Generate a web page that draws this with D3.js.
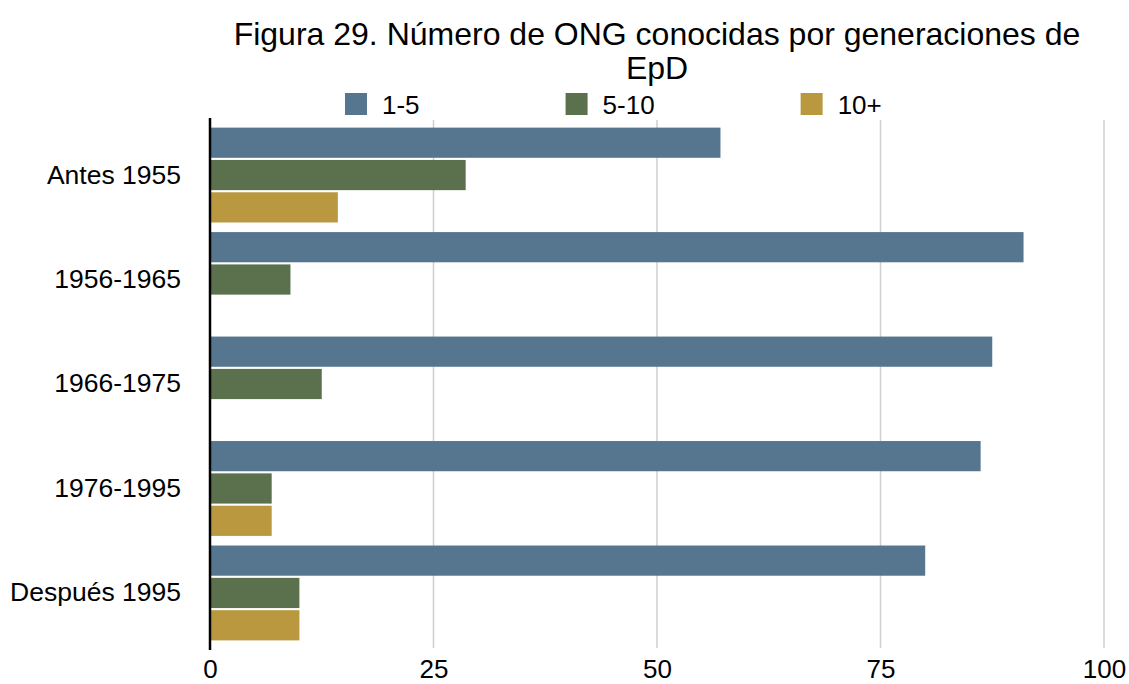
<!DOCTYPE html>
<html>
<head>
<meta charset="utf-8">
<script src="https://cdn.jsdelivr.net/npm/d3@7"></script>
<style>
  body { margin: 0; background: #fff; }
  text { font-family: "Liberation Sans", Arial, Helvetica, sans-serif; fill: #000; }
</style>
</head>
<body>
<svg id="chart" width="1129" height="684"></svg>
<script>
// data
var categories = ["Antes 1955", "1956-1965", "1966-1975", "1976-1995", "Después 1995"];
var seriesNames = ["1-5", "5-10", "10+"];
var values15 = [57.1, 91.0, 87.5, 86.2, 80.0];
var values510 = [28.6, 9.0, 12.5, 6.9, 10.0];
var values10p = [14.3, 0, 0, 6.9, 10.0];
var xTicks = [0, 25, 50, 75, 100];
var colors = ["#56768f", "#5b714d", "#b9983f"];

var series = [values15, values510, values10p];

var svg = d3.select("#chart");
var margin = {top: 118, right: 25, bottom: 34, left: 210};
var width = 1129, height = 684;

var x = d3.scaleLinear()
    .domain([0, 100])
    .range([margin.left, 1104]);

var y = d3.scaleBand()
    .domain(categories)
    .range([margin.top, height - margin.bottom])
    .padding(0.092);

var ySub = d3.scaleBand()
    .domain(seriesNames)
    .range([0, y.bandwidth()])
    .paddingInner(0.066);

// gridlines
svg.append("g")
    .selectAll("line")
    .data(xTicks.slice(1))
    .enter()
    .append("line")
    .attr("x1", function(d) { return x(d); })
    .attr("x2", function(d) { return x(d); })
    .attr("y1", 120)
    .attr("y2", 648)
    .attr("stroke", "#cfcfcf")
    .attr("stroke-width", 1.5);

// bars
series.forEach(function(vals, s) {
    svg.append("g")
        .selectAll("rect")
        .data(vals)
        .enter()
        .append("rect")
        .attr("x", x(0))
        .attr("y", function(d, i) { return y(categories[i]) + ySub(seriesNames[s]); })
        .attr("width", function(d) { return x(d) - x(0); })
        .attr("height", ySub.bandwidth())
        .attr("fill", colors[s]);
});

// x axis labels
var xAxis = svg.append("g")
    .attr("transform", "translate(0," + (height - margin.bottom) + ")")
    .call(d3.axisBottom(x).tickValues(xTicks).tickSize(0).tickPadding(10));
xAxis.select(".domain").remove();
xAxis.selectAll("text")
    .style("font-size", "26px")
    .attr("fill", "#000");

// y axis
var yAxis = svg.append("g")
    .attr("transform", "translate(" + margin.left + ",0)")
    .call(d3.axisLeft(y).tickSize(0).tickPadding(29));
yAxis.select(".domain").remove();
yAxis.selectAll("text")
    .style("font-size", "26.5px")
    .attr("fill", "#000");

svg.append("line")
    .attr("x1", x(0))
    .attr("x2", x(0))
    .attr("y1", margin.top)
    .attr("y2", 650)
    .attr("stroke", "#000")
    .attr("stroke-width", 2.5);

// title
var title = svg.append("text")
    .attr("text-anchor", "middle")
    .style("font-size", "32px");
title.append("tspan")
    .attr("x", 657)
    .attr("y", 45)
    .text("Figura 29. Número de ONG conocidas por generaciones de");
title.append("tspan")
    .attr("x", 657)
    .attr("y", 79)
    .text("EpD");

// legend
var legend = svg.append("g");
var lx = 345;
seriesNames.forEach(function(name, i) {
    legend.append("rect")
        .attr("x", lx)
        .attr("y", 93)
        .attr("width", 22)
        .attr("height", 22)
        .attr("fill", colors[i]);
    var t = legend.append("text")
        .attr("x", lx + 37)
        .attr("y", 114)
        .style("font-size", "26px")
        .text(name);
    lx = lx + 37 + t.node().getComputedTextLength() + 146;
});
</script>
</body>
</html>
